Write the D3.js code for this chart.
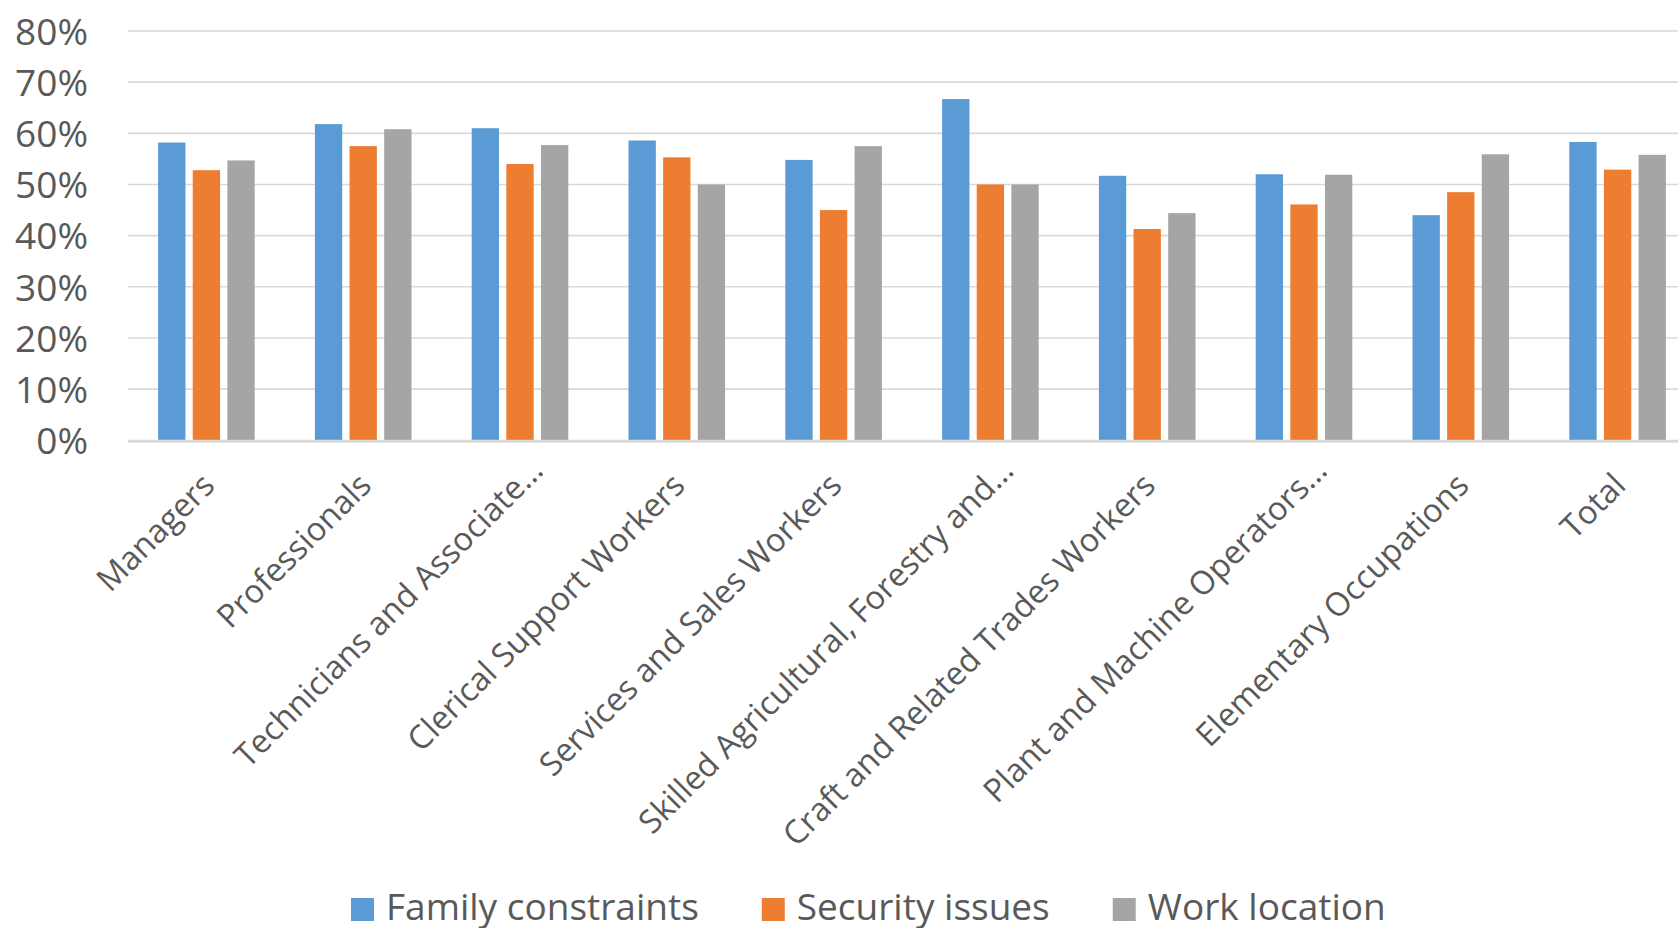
<!DOCTYPE html>
<html>
<head>
<meta charset="utf-8">
<script src="https://cdn.jsdelivr.net/npm/d3@7"></script>
<style>
  html, body { margin: 0; padding: 0; background: #fff; overflow: hidden; }
  svg { display: block; font-family: "Open Sans", "Noto Sans", sans-serif; }
</style>
</head>
<body>
<svg id="chart" width="1678" height="928"></svg>
<script>
// Occupation groups shown along the x axis
const categories = [
  "Managers",
  "Professionals",
  "Technicians and Associate\u2026",
  "Clerical Support Workers",
  "Services and Sales Workers",
  "Skilled Agricultural, Forestry and\u2026",
  "Craft and Related Trades Workers",
  "Plant and Machine Operators\u2026",
  "Elementary Occupations",
  "Total"
];

// Share of respondents citing each reason
const seriesNames = ["Family constraints", "Security issues", "Work location"];
const familyConstraints = [0.582, 0.618, 0.610, 0.586, 0.548, 0.667, 0.517, 0.520, 0.440, 0.583];
const securityIssues    = [0.528, 0.575, 0.540, 0.553, 0.450, 0.500, 0.413, 0.461, 0.485, 0.529];
const workLocation      = [0.547, 0.608, 0.577, 0.500, 0.575, 0.500, 0.444, 0.519, 0.559, 0.558];
const seriesValues = [familyConstraints, securityIssues, workLocation];
const seriesColors = ["#5b9bd5", "#ed7d31", "#a5a5a5"];

const yTicks = [0, 0.1, 0.2, 0.3, 0.4, 0.5, 0.6, 0.7, 0.8];

const svg = d3.select("#chart");
const W = 1678, H = 928;
const plotLeft = 128, plotRight = 1696, plotTop = 31, plotBottom = 440.3;
const textColor = "#595959";

const y = d3.scaleLinear().domain([0, 0.8]).range([plotBottom, plotTop]);

// outer band: one group per category, group occupies ~62% of the step
const x0 = d3.scaleBand()
  .domain(categories)
  .range([plotLeft, plotRight])
  .paddingInner(0.384)
  .paddingOuter(0.192);

const x1 = d3.scaleBand()
  .domain(seriesNames)
  .range([0, x0.bandwidth()])
  .paddingInner(0.211)
  .paddingOuter(0);

// horizontal gridlines
svg.append("g")
  .selectAll("line")
  .data(yTicks.filter(d => d > 0))
  .join("line")
  .attr("x1", plotLeft).attr("x2", W)
  .attr("y1", d => y(d)).attr("y2", d => y(d))
  .attr("stroke", "#d9d9d9")
  .attr("stroke-width", 1.6);

// y axis labels
const yAxis = d3.axisLeft(y).tickValues(yTicks).tickFormat(d3.format(".0%")).tickSize(0).tickPadding(0);
const yg = svg.append("g").attr("transform", "translate(88,0)").call(yAxis);
yg.select(".domain").remove();
yg.selectAll("text")
  .attr("fill", textColor)
  .attr("font-size", 37)
  .attr("font-family", "'Open Sans', sans-serif")
  .attr("dy", "0.36em");

// bars
const rows = categories.map((c, i) => ({ cat: c, vals: seriesNames.map((s, j) => ({ s, v: seriesValues[j][i], color: seriesColors[j] })) }));
svg.append("g")
  .selectAll("g")
  .data(rows)
  .join("g")
  .attr("transform", d => `translate(${x0(d.cat)},0)`)
  .selectAll("rect")
  .data(d => d.vals)
  .join("rect")
  .attr("x", d => x1(d.s))
  .attr("width", x1.bandwidth())
  .attr("y", d => y(d.v))
  .attr("height", d => y(0) - y(d.v))
  .attr("fill", d => d.color);

// category axis line
svg.append("line")
  .attr("x1", plotLeft).attr("x2", W)
  .attr("y1", plotBottom + 1).attr("y2", plotBottom + 1)
  .attr("stroke", "#d9d9d9")
  .attr("stroke-width", 3);

// rotated category labels; shortened labels sit a little further out
const xAxis = d3.axisBottom(x0).tickSize(0).tickPadding(0);
const xg = svg.append("g").attr("transform", `translate(0,${plotBottom})`).call(xAxis);
xg.select(".domain").remove();
xg.selectAll(".tick text")
  .attr("fill", textColor)
  .attr("font-size", 32.5)
  .attr("font-family", "'Open Sans', sans-serif")
  .attr("text-anchor", "end")
  .attr("dy", 0)
  .attr("y", 0)
  .attr("transform", d => d.endsWith("\u2026")
    ? "translate(25,32) rotate(-45)"
    : "translate(10,47) rotate(-45)");

// legend
const legend = svg.append("g");
let lx = 351;
seriesNames.forEach((name, i) => {
  legend.append("rect")
    .attr("x", lx).attr("y", 898)
    .attr("width", 23).attr("height", 23)
    .attr("fill", seriesColors[i]);
  const t = legend.append("text")
    .attr("x", lx + 35).attr("y", 920)
    .attr("fill", textColor)
    .attr("font-size", 37)
    .text(name);
  lx += 35 + t.node().getComputedTextLength() + 63;
});
</script>
</body>
</html>
